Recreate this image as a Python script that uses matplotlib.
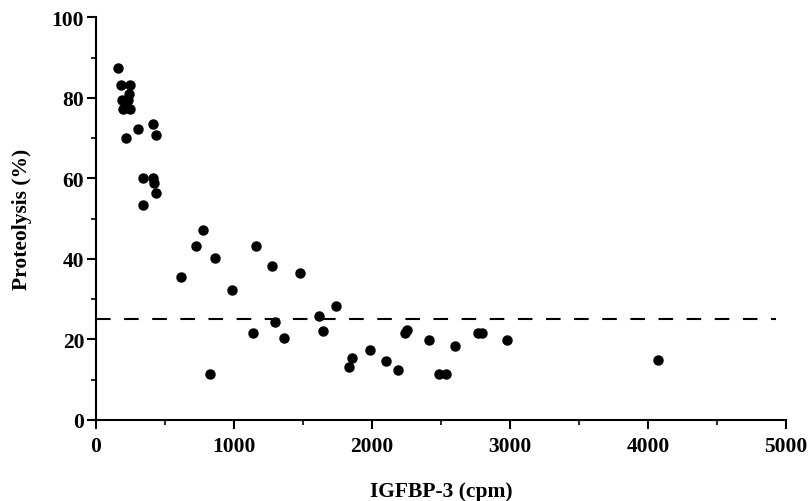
import matplotlib
matplotlib.use("Agg")
import matplotlib.pyplot as plt
from matplotlib.ticker import MultipleLocator

# IGFBP-3 (cpm) vs proteolysis (%)
igfbp3 = [162, 180, 190, 195, 215, 235, 240, 245, 250,
          217, 307, 415, 435, 338, 411, 420, 435, 338,
          778, 725, 862, 616, 983, 1157, 1278, 1478, 1737, 1618,
          1300, 1138, 1360, 1643, 829, 1830, 1855, 1983, 2099, 2191,
          2242, 2256, 2415, 2601, 2770, 2799, 2976, 2486, 2536, 4072]
proteolysis = [87.4, 83.2, 79.5, 77.3, 78.5, 79.5, 81.0, 83.2, 77.3,
               70.1, 72.3, 73.4, 70.7, 60.0, 60.2, 58.8, 56.3, 53.5,
               47.2, 43.1, 40.2, 35.5, 32.3, 43.1, 38.2, 36.4, 28.2, 25.7,
               24.4, 21.5, 20.4, 22.1, 11.4, 13.2, 15.3, 17.3, 14.7, 12.4,
               21.6, 22.3, 19.8, 18.3, 21.5, 21.5, 19.8, 11.5, 11.5, 14.8]
cutoff = 25
cutoff_end = 4930

plt.rcParams['font.family'] = ['Liberation Serif', 'DejaVu Serif']
plt.rcParams['font.weight'] = 'bold'

fig = plt.figure(figsize=(8.1, 5.02), dpi=100)
ax = fig.add_axes([0.1185, 0.1614, 0.8518, 0.8021])

ax.plot(igfbp3, proteolysis, 'o', color='black', markersize=6.5, zorder=3)
ax.plot([0, cutoff_end], [cutoff, cutoff], color='black', linewidth=1.5,
        dashes=(7, 6.5))

ax.set_xlim(0, 5000)
ax.set_ylim(0, 100)
ax.xaxis.set_major_locator(MultipleLocator(1000))
ax.xaxis.set_minor_locator(MultipleLocator(500))
ax.yaxis.set_major_locator(MultipleLocator(20))
ax.yaxis.set_minor_locator(MultipleLocator(10))

for s in ['top', 'right']:
    ax.spines[s].set_visible(False)
for s in ['left', 'bottom']:
    ax.spines[s].set_linewidth(1.5)

ax.tick_params(which='major', direction='out', length=6.5, width=1.5,
               labelsize=15.5)
ax.tick_params(which='minor', direction='out', length=3.6, width=1.2)
ax.tick_params(axis='x', which='major', pad=5)
ax.tick_params(axis='y', which='major', pad=2)

ax.set_xlabel('IGFBP-3 (cpm)', fontsize=15.5, fontweight='bold', labelpad=18)
ax.set_ylabel('Proteolysis (%)', fontsize=15.5, fontweight='bold', labelpad=14)

fig.savefig('out.png', dpi=100)
